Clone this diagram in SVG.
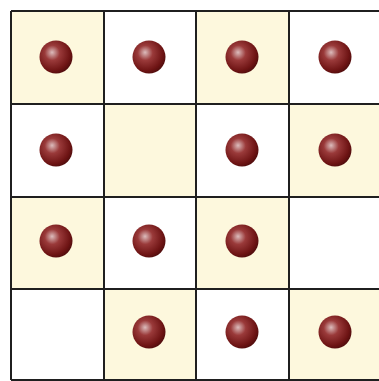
<svg xmlns="http://www.w3.org/2000/svg" width="379" height="381" viewBox="0 0 379 381">
<defs>
<radialGradient id="ball" cx="0.4" cy="0.4" r="0.65" fx="0.38" fy="0.36">
<stop offset="0" stop-color="#dcbcbc"/>
<stop offset="0.35" stop-color="#9a3a3a"/>
<stop offset="0.8" stop-color="#6e1414"/>
<stop offset="1" stop-color="#4e0c0c"/>
</radialGradient>
<style>
.c{fill:#fdf8dd}
.w{fill:#ffffff}
.b{fill:url(#ball)}
.g{stroke:#1f1f1f;stroke-width:2;fill:none}
</style>
</defs>
<rect width="379" height="381" fill="#ffffff"/>
<g id="cells">
<rect class="c" x="11" y="11" width="93" height="93"/>
<rect class="c" x="196" y="11" width="93" height="93"/>
<rect class="c" x="104" y="104" width="92" height="93"/>
<rect class="c" x="289" y="104" width="93" height="93"/>
<rect class="c" x="11" y="197" width="93" height="92"/>
<rect class="c" x="196" y="197" width="93" height="92"/>
<rect class="c" x="104" y="289" width="92" height="91"/>
<rect class="c" x="289" y="289" width="93" height="91"/>
</g>
<g id="grid" class="g">
<line x1="11" y1="11" x2="382" y2="11"/>
<line x1="11" y1="104" x2="382" y2="104"/>
<line x1="11" y1="197" x2="382" y2="197"/>
<line x1="11" y1="289" x2="382" y2="289"/>
<line x1="11" y1="380" x2="382" y2="380"/>
<line x1="11" y1="11" x2="11" y2="380"/>
<line x1="104" y1="11" x2="104" y2="380"/>
<line x1="196" y1="11" x2="196" y2="380"/>
<line x1="289" y1="11" x2="289" y2="380"/>
</g>
<g id="balls">
<circle class="b" cx="56" cy="57" r="16.5"/>
<circle class="b" cx="149" cy="57" r="16.5"/>
<circle class="b" cx="242" cy="57" r="16.5"/>
<circle class="b" cx="335" cy="57" r="16.5"/>
<circle class="b" cx="56" cy="150" r="16.5"/>
<circle class="b" cx="242" cy="150" r="16.5"/>
<circle class="b" cx="335" cy="150" r="16.5"/>
<circle class="b" cx="56" cy="241" r="16.5"/>
<circle class="b" cx="149" cy="241" r="16.5"/>
<circle class="b" cx="242" cy="241" r="16.5"/>
<circle class="b" cx="149" cy="332" r="16.5"/>
<circle class="b" cx="242" cy="332" r="16.5"/>
<circle class="b" cx="335" cy="332" r="16.5"/>
</g>
</svg>
